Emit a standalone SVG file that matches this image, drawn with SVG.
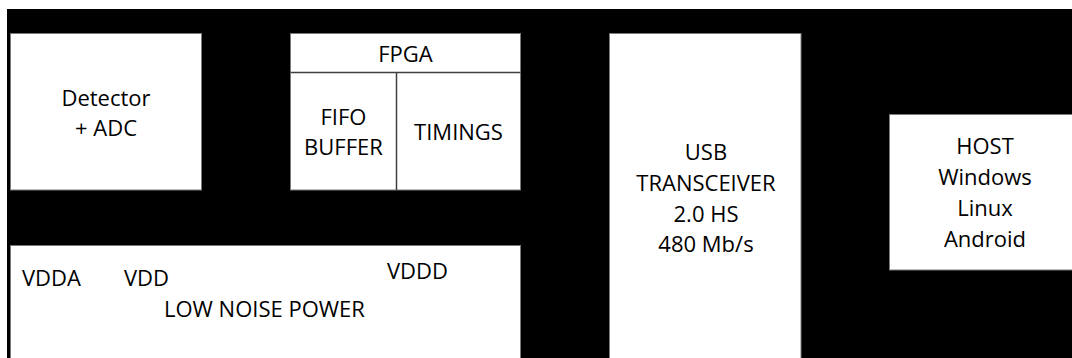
<svg xmlns="http://www.w3.org/2000/svg" width="1072" height="358" viewBox="0 0 1072 358">
<style>
.box{fill:#fff;stroke:#7a7a7a;stroke-width:1}
.div{stroke:#404040;stroke-width:1.5;fill:none}
text{font-family:"Open Sans","Liberation Sans",sans-serif;font-size:22px;fill:#000}
.c{text-anchor:middle}
</style>
<rect x="0" y="0" width="1072" height="358" fill="#fff"/>
<rect x="7" y="9" width="1065" height="349" fill="#000"/>
<g id="detector">
<rect class="box" x="10.5" y="33.5" width="191" height="156.5"/>
<text class="c" x="106" y="106">Detector</text>
<text class="c" x="106" y="136">+ ADC</text>
</g>
<g id="fpga">
<rect class="box" x="290.5" y="33.5" width="230" height="156.5"/>
<line class="div" x1="290.5" y1="72.5" x2="520.5" y2="72.5"/>
<line class="div" x1="396.5" y1="72.5" x2="396.5" y2="190"/>
<text class="c" x="405.5" y="62">FPGA</text>
<text class="c" x="343.5" y="125">FIFO</text>
<text class="c" x="343.5" y="155">BUFFER</text>
<text class="c" x="458.5" y="140">TIMINGS</text>
</g>
<g id="power">
<rect class="box" x="10.5" y="245.5" width="510" height="120"/>
<text x="22" y="286">VDDA</text>
<text x="124" y="286">VDD</text>
<text x="387" y="279">VDDD</text>
<text x="164" y="317">LOW NOISE POWER</text>
</g>
<g id="usb">
<rect class="box" x="609.5" y="33.5" width="191.5" height="340"/>
<text class="c" x="706" y="160">USB</text>
<text class="c" x="706" y="191">TRANSCEIVER</text>
<text class="c" x="706" y="222">2.0 HS</text>
<text class="c" x="706" y="252">480 Mb/s</text>
</g>
<g id="host">
<rect class="box" x="889.5" y="114.5" width="200" height="155.5"/>
<text class="c" x="985" y="154">HOST</text>
<text class="c" x="985" y="185">Windows</text>
<text class="c" x="985" y="216">Linux</text>
<text class="c" x="985" y="247">Android</text>
</g>
<g id="connectors"></g>
</svg>
